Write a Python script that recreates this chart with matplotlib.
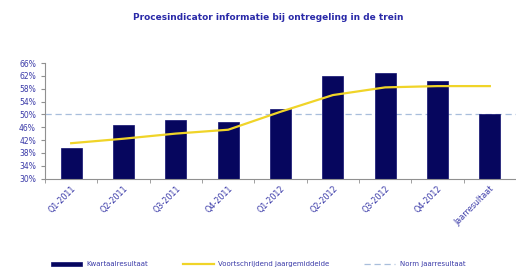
import numpy as np
import matplotlib
matplotlib.use("Agg")
import matplotlib.pyplot as plt
from matplotlib.ticker import PercentFormatter

# data
kwartalen = ["Q1-2011", "Q2-2011", "Q3-2011", "Q4-2011", "Q1-2012",
             "Q2-2012", "Q3-2012", "Q4-2012", "Jaarresultaat"]
kwartaal = [39.6, 46.6, 48.2, 47.6, 51.6, 61.8, 62.8, 60.3, 50.0]
voortschrijdend = [41.0, 42.4, 44.0, 45.2, 50.8, 56.0, 58.4, 58.8, 58.8]
norm = 50.0
yticks = [30, 34, 38, 42, 46, 50, 54, 58, 62, 66]

tekst = "#3a3aa8"

fig = plt.figure(figsize=(5.16, 2.71), dpi=100)
ax = fig.add_axes([45 / 516, 1 - 178.5 / 271, 471 / 516, 115.5 / 271])

x = np.arange(len(kwartalen))
b = ax.bar(x, kwartaal, width=0.4, color="#06065e", edgecolor="#101070",
           linewidth=0.5, label="Kwartaalresultaat", zorder=2)
l, = ax.plot(x, voortschrijdend, color="#f0d428", linewidth=1.6,
             label="Voortschrijdend jaargemiddelde", zorder=3)
n = ax.axhline(norm, color="#a8bedc", linewidth=0.9, linestyle=(0, (5, 3)),
               label="Norm jaarresultaat", zorder=1)

ax.set_xlim(-0.5, len(kwartalen) - 0.5)
ax.set_ylim(30, 66)
ax.set_yticks(yticks)
ax.yaxis.set_major_formatter(PercentFormatter(decimals=0))
ax.set_xticks(x)
ax.set_xticklabels(kwartalen, rotation=45, ha="right", rotation_mode="anchor")
ax.set_xticks(np.arange(len(kwartalen) + 1) - 0.5, minor=True)
ax.tick_params(axis="x", which="major", length=0, labelsize=5.8,
               labelcolor=tekst, pad=4)
ax.tick_params(axis="x", which="minor", length=3, color="#909090")
ax.tick_params(axis="y", length=3, labelsize=5.5, labelcolor=tekst,
               color="#909090")

for s in ["top", "right"]:
    ax.spines[s].set_visible(False)
ax.spines["left"].set_color("#909090")
ax.spines["bottom"].set_color("#909090")

fig.text(0.52, 1 - 17 / 271, "Procesindicator informatie bij ontregeling in de trein",
         ha="center", va="center", fontsize=6.5, fontweight="bold", color="#2a2aa8")

fig.legend([b, l, n], [b.get_label(), l.get_label(), n.get_label()],
           loc="center", bbox_to_anchor=(0.5, 1 - 264 / 271), ncol=3,
           frameon=False, fontsize=5, labelcolor=tekst, handlelength=4.5,
           handleheight=0.5, columnspacing=5, handletextpad=0.6)

fig.savefig("out.png", dpi=100)
